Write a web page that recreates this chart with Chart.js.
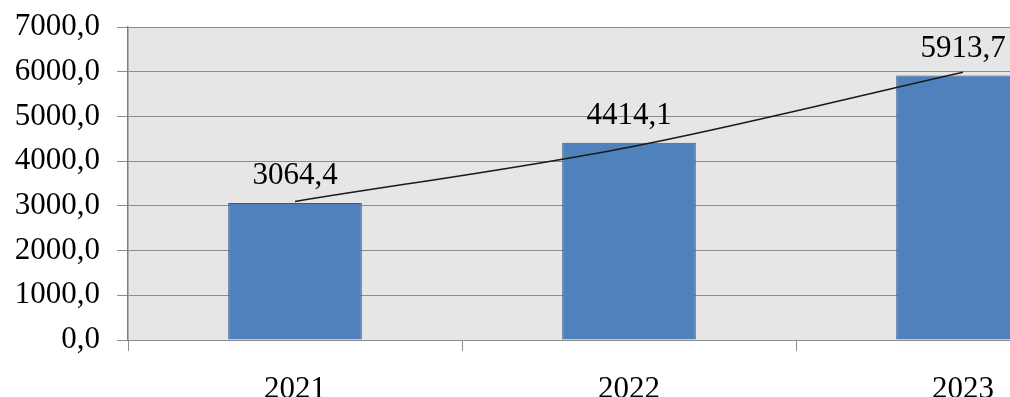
<!DOCTYPE html>
<html>
<head>
<meta charset="utf-8">
<script src="https://cdn.jsdelivr.net/npm/chart.js@4/dist/chart.umd.min.js"></script>
<style>
    html, body { margin: 0; padding: 0; background: #fff; overflow: hidden; }
    #wrap { width: 1130px; height: 397px; }
</style>
</head>
<body>
<div id="wrap"><canvas id="yearChart"></canvas></div>
<script>
const years = ["2021", "2022", "2023"];
const amounts = [3064.4, 4414.1, 5913.7];
// exponential trend, read at each year
const trendValues = [3100, 4312, 5990];
const yTicks = [0, 1000, 2000, 3000, 4000, 5000, 6000, 7000];

const fontFamily = "'Liberation Serif', 'Times New Roman', serif";

function formatComma(v) {
    return v.toFixed(1).replace(".", ",");
}

// grey plot background behind everything
const plotBackground = {
    id: 'plotBackground',
    beforeDraw(chart) {
        const a = chart.chartArea;
        const ctx = chart.ctx;
        ctx.save();
        ctx.fillStyle = "#e6e6e6";
        ctx.fillRect(a.left, a.top, a.right - a.left, a.bottom - a.top);
        ctx.restore();
    }
};

// value above each bar
const barValues = {
    id: 'barValues',
    afterDatasetsDraw(chart) {
        const ctx = chart.ctx;
        const meta = chart.getDatasetMeta(1);
        ctx.save();
        ctx.font = "31px " + fontFamily;
        ctx.fillStyle = "#000";
        ctx.textAlign = "center";
        ctx.textBaseline = "alphabetic";
        meta.data.forEach((bar, i) => {
            ctx.fillText(formatComma(amounts[i]), bar.x, bar.y - 19);
        });
        ctx.restore();
    }
};

let yearChart = new Chart(document.getElementById("yearChart"), {
    data: {
        labels: years,
        datasets: [
            {
                type: 'line',
                label: "Trend",
                data: trendValues,
                borderColor: "#1a1a1a",
                borderWidth: 1.5,
                pointRadius: 0,
                cubicInterpolationMode: 'monotone',
                fill: false,
                order: 0
            },
            {
                type: 'bar',
                label: "Amount",
                data: amounts,
                backgroundColor: "#4f81bd",
                borderColor: "#36598a",
                borderWidth: 1,
                barPercentage: 0.8,
                categoryPercentage: 0.5,
                order: 1
            }
        ]
    },
    options: {
        responsive: true,
        maintainAspectRatio: false,
        animation: false,
        layout: { padding: { top: 27, right: 0, bottom: 0, left: 0 } },
        plugins: {
            legend: { display: false },
            tooltip: { enabled: false }
        },
        scales: {
            x: {
                offset: true,
                grid: {
                    offset: true,
                    drawOnChartArea: false,
                    drawTicks: true,
                    tickLength: 11,
                    color: "#8c8c8c",
                    lineWidth: 1
                },
                border: { display: false },
                ticks: {
                    color: "#000",
                    padding: 20,
                    font: { family: fontFamily, size: 31 }
                },
                afterFit(scale) {
                    scale.height = 57;
                    scale.paddingLeft = 0;
                    scale.paddingRight = 0;
                }
            },
            y: {
                min: 0,
                max: 7000,
                afterBuildTicks(scale) {
                    scale.ticks = yTicks.map(v => ({ value: v }));
                },
                grid: {
                    color: "#8c8c8c",
                    lineWidth: 1,
                    tickLength: 11
                },
                border: { color: "#808080", width: 1.5 },
                ticks: {
                    color: "#000",
                    padding: 17,
                    font: { family: fontFamily, size: 31 },
                    callback: v => formatComma(v)
                },
                afterFit(scale) {
                    scale.width = 128;
                    scale.paddingTop = 0;
                    scale.paddingBottom = 0;
                }
            }
        }
    },
    plugins: [plotBackground, barValues]
});
</script>
</body>
</html>
